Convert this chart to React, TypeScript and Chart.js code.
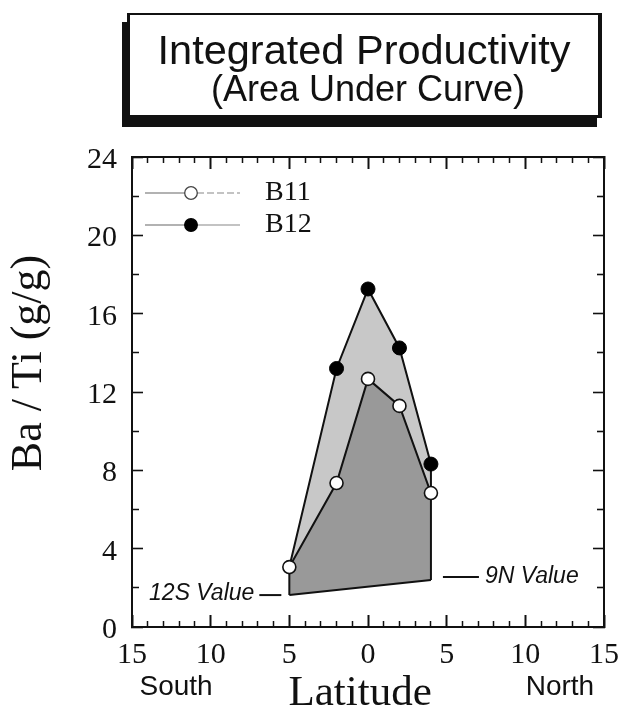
import React, { useEffect, useRef } from 'react';
import { Chart, registerables } from 'chart.js';

Chart.register(...registerables);

// ---- data ----
const latitudes = [-5, -2, 0, 2, 4];
const b11Values = [3.06, 7.35, 12.67, 11.29, 6.84];
const b12Values = [3.06, 13.2, 17.26, 14.25, 8.32];
const endpointLatitudes = [-5, 4];
const endpointValues = [1.63, 2.4];
const endpointLabels = ['12S Value', '9N Value'];
const seriesNames = ['B11', 'B12'];
const regionLabels = ['South', 'Latitude', 'North'];
const regionPositions = [-12.2, -0.5, 12.2];
const titleLines = ['Integrated Productivity', '(Area Under Curve)'];
const yAxisTitle = 'Ba / Ti (g/g)';
const xRange = [-15, 15];
const yRange = [0, 24];

const serif = "'Liberation Serif', 'Times New Roman', serif";
const sans = "'Liberation Sans', Arial, Helvetica, sans-serif";
const ink = '#111';

const pts = (xs: number[], ys: number[]) => xs.map((x, i) => ({ x, y: ys[i] }));

function makeLegendIcon(filled: boolean) {
  const c = document.createElement('canvas');
  c.width = 106;
  c.height = 20;
  const g = c.getContext('2d')!;
  g.strokeStyle = '#666';
  g.lineWidth = 1.2;
  g.beginPath();
  g.moveTo(0, 10);
  g.lineTo(40, 10);
  g.stroke();
  if (!filled) g.setLineDash([7, 3]);
  g.strokeStyle = '#888';
  g.beginPath();
  g.moveTo(52, 10);
  g.lineTo(95, 10);
  g.stroke();
  g.setLineDash([]);
  g.beginPath();
  g.arc(46, 10, 6.3, 0, Math.PI * 2);
  g.fillStyle = filled ? '#000' : '#fff';
  g.fill();
  g.strokeStyle = filled ? '#000' : '#444';
  g.lineWidth = 1.3;
  g.stroke();
  return c;
}

const legendPlacer = {
  id: 'legendPlacer',
  afterLayout(chart: any) {
    const lg = chart.legend;
    if (!lg) return;
    const a = chart.chartArea;
    lg.left = a.left + 9;
    lg.top = a.top + 18;
    lg.right = a.left + 300;
    lg.bottom = a.bottom;
    lg.width = lg.right - lg.left;
    lg.height = lg.bottom - lg.top;
  },
};

const endpointAnnotations = {
  id: 'endpointAnnotations',
  afterDatasetsDraw(chart: any) {
    const { ctx, scales } = chart;
    const xs = scales.x;
    const ys = scales.y;
    ctx.save();
    ctx.font = `italic 23px ${sans}`;
    ctx.fillStyle = ink;
    ctx.strokeStyle = ink;
    ctx.lineWidth = 2;
    ctx.textBaseline = 'middle';
    endpointLabels.forEach((label, i) => {
      const px = xs.getPixelForValue(endpointLatitudes[i]);
      const py = ys.getPixelForValue(endpointValues[i]);
      if (endpointLatitudes[i] < 0) {
        ctx.beginPath();
        ctx.moveTo(px - 30, py);
        ctx.lineTo(px - 8, py);
        ctx.stroke();
        ctx.textAlign = 'right';
        ctx.fillText(label, px - 35, py - 1);
      } else {
        ctx.beginPath();
        ctx.moveTo(px + 12, py - 3);
        ctx.lineTo(px + 48, py - 3);
        ctx.stroke();
        ctx.textAlign = 'left';
        ctx.fillText(label, px + 54, py - 3);
      }
    });
    ctx.restore();
  },
};

const isMajor = (ctx: any, step: number) => ctx.tick && Math.round(ctx.tick.value) % step === 0;
const noHPad = (s: any, h: number) => {
  s.height = h;
  s.paddingLeft = 0;
  s.paddingRight = 0;
};
const noVPad = (s: any, w: number) => {
  s.width = w;
  s.paddingTop = 0;
  s.paddingBottom = 0;
};

export default function App() {
  const canvasRef = useRef<HTMLCanvasElement>(null);

  useEffect(() => {
    const canvas = canvasRef.current;
    if (!canvas) return;
    const icons = [makeLegendIcon(false), makeLegendIcon(true)];

    const lineBase = {
      borderColor: ink,
      borderWidth: 2,
      tension: 0,
      pointRadius: 0,
      pointHoverRadius: 0,
    };

    const chart = new Chart(canvas, {
      type: 'line',
      data: {
        datasets: [
          {
            ...lineBase,
            label: 'baseline',
            data: pts(endpointLatitudes, endpointValues),
            fill: false,
            order: 5,
          },
          {
            ...lineBase,
            label: seriesNames[0],
            data: pts(latitudes, b11Values),
            backgroundColor: '#999999',
            fill: '-1',
            pointRadius: 6.5,
            pointBackgroundColor: '#fff',
            pointBorderColor: ink,
            pointBorderWidth: 1.6,
            order: 1,
          },
          {
            ...lineBase,
            label: seriesNames[1],
            data: pts(latitudes, b12Values),
            backgroundColor: '#c8c8c8',
            fill: '-1',
            pointRadius: (c: any) => (c.dataIndex === 0 ? 0 : 7),
            pointBackgroundColor: '#000',
            pointBorderColor: '#000',
            pointBorderWidth: 1,
            order: 2,
          },
          {
            ...lineBase,
            label: 'edgeS',
            data: [
              { x: endpointLatitudes[0], y: b11Values[0] },
              { x: endpointLatitudes[0], y: endpointValues[0] },
            ],
            fill: false,
            order: 5,
          },
          {
            ...lineBase,
            label: 'edgeN',
            data: [
              { x: endpointLatitudes[1], y: b12Values[b12Values.length - 1] },
              { x: endpointLatitudes[1], y: endpointValues[1] },
            ],
            fill: false,
            order: 5,
          },
        ],
      } as any,
      options: {
        responsive: false,
        maintainAspectRatio: false,
        animation: false,
        devicePixelRatio: 1,
        events: [],
        layout: { padding: { top: 157, left: 0, right: 15, bottom: 0 } },
        plugins: {
          filler: { propagate: false, drawTime: 'beforeDatasetsDraw' },
          tooltip: { enabled: false },
          legend: {
            display: true,
            position: 'chartArea',
            align: 'start',
            labels: {
              usePointStyle: true,
              pointStyleWidth: 106,
              padding: 4,
              color: ink,
              font: { family: serif, size: 28 },
              generateLabels: () =>
                seriesNames.map((name, i) => ({
                  text: name,
                  pointStyle: icons[i],
                  fillStyle: '#000',
                  strokeStyle: '#000',
                  lineWidth: 0,
                  hidden: false,
                  datasetIndex: i + 1,
                  fontColor: ink,
                })),
            },
          },
        } as any,
        scales: {
          x: {
            type: 'linear',
            position: 'bottom',
            min: xRange[0],
            max: xRange[1],
            afterFit: (s: any) => noHPad(s, 44),
            ticks: {
              stepSize: 1,
              autoSkip: false,
              maxRotation: 0,
              padding: 22,
              color: ink,
              font: { family: serif, size: 30 },
              callback: (v: any) => (Math.round(v) % 5 === 0 ? String(Math.abs(Math.round(v))) : ''),
            },
            grid: {
              drawOnChartArea: false,
              tickLength: -12,
              tickColor: ink,
              tickWidth: (c: any) => (isMajor(c, 5) ? 2 : 1.5),
              tickBorderDash: (c: any) => (isMajor(c, 5) ? [] : [7, 40]),
            },
            border: { color: ink, width: 2 },
          },
          xl: {
            type: 'linear',
            position: 'bottom',
            weight: 1,
            min: xRange[0],
            max: xRange[1],
            afterFit: (s: any) => noHPad(s, 48),
            afterBuildTicks: (s: any) => {
              s.ticks = regionPositions.map((v) => ({ value: v }));
            },
            ticks: {
              autoSkip: false,
              maxRotation: 0,
              padding: 4,
              color: ink,
              callback: (_v: any, i: number) => regionLabels[i],
              font: (c: any) =>
                c.index === 1
                  ? { family: serif, size: 43, lineHeight: 0.86 }
                  : { family: sans, size: 28, lineHeight: 0.86 },
            },
            grid: { display: false, drawTicks: false },
            border: { display: false },
          },
          x2: {
            type: 'linear',
            position: 'top',
            min: xRange[0],
            max: xRange[1],
            afterFit: (s: any) => noHPad(s, 0),
            ticks: { display: false, stepSize: 1, autoSkip: false },
            grid: {
              drawOnChartArea: false,
              tickLength: -12,
              tickColor: ink,
              tickWidth: (c: any) => (isMajor(c, 5) ? 2 : 1.5),
              tickBorderDash: (c: any) => (isMajor(c, 5) ? [] : [0, 6, 8, 40]),
            },
            border: { color: ink, width: 2 },
          },
          y: {
            type: 'linear',
            position: 'left',
            min: yRange[0],
            max: yRange[1],
            afterFit: (s: any) => noVPad(s, 132),
            ticks: {
              stepSize: 2,
              autoSkip: false,
              padding: 26,
              labelOffset: 3,
              color: ink,
              font: { family: serif, size: 30 },
              callback: (v: any) => (Math.round(v) % 4 === 0 ? String(Math.round(v)) : ''),
            },
            grid: {
              drawOnChartArea: false,
              tickLength: -11,
              tickColor: ink,
              tickWidth: 1.6,
              tickBorderDash: (c: any) => (isMajor(c, 4) ? [] : [0, 4, 9, 40]),
            },
            border: { color: ink, width: 2 },
          },
          y2: {
            type: 'linear',
            position: 'right',
            min: yRange[0],
            max: yRange[1],
            afterFit: (s: any) => noVPad(s, 0),
            ticks: { display: false, stepSize: 2, autoSkip: false },
            grid: {
              drawOnChartArea: false,
              tickLength: -11,
              tickColor: ink,
              tickWidth: 1.6,
              tickBorderDash: (c: any) => (isMajor(c, 4) ? [] : [8, 40]),
            },
            border: { color: ink, width: 2 },
          },
        },
      } as any,
      plugins: [legendPlacer, endpointAnnotations],
    });

    return () => chart.destroy();
  }, []);

  return (
    <div style={{ position: 'absolute', left: 0, top: 0, width: 619, height: 719, background: '#fff', overflow: 'hidden' }}>
      <canvas ref={canvasRef} width={619} height={719} style={{ display: 'block' }} />
      <div
        style={{
          position: 'absolute',
          left: 27 - 150,
          top: 363 - 22,
          width: 300,
          height: 44,
          lineHeight: '44px',
          fontFamily: serif,
          fontSize: 44,
          color: ink,
          textAlign: 'center',
          whiteSpace: 'nowrap',
          transform: 'rotate(-90deg)',
        }}
      >
        {yAxisTitle}
      </div>
      <div
        style={{
          position: 'absolute',
          left: 127,
          top: 13,
          width: 475,
          height: 105,
          boxSizing: 'border-box',
          borderTop: '2px solid #111',
          borderLeft: '3px solid #111',
          borderRight: '4px solid #111',
          borderBottom: '3px solid #111',
          boxShadow: '-5px 9px 0 #111',
          background: '#fff',
          color: ink,
          fontFamily: sans,
        }}
      >
        <div
          style={{
            position: 'absolute',
            left: 0,
            right: 0,
            top: 14,
            textAlign: 'center',
            fontSize: 41.5,
            lineHeight: '41px',
            whiteSpace: 'nowrap',
          }}
        >
          {titleLines[0]}
        </div>
        <div
          style={{
            position: 'absolute',
            left: 8,
            right: 0,
            top: 56,
            textAlign: 'center',
            fontSize: 36,
            lineHeight: '35px',
            whiteSpace: 'nowrap',
          }}
        >
          {titleLines[1]}
        </div>
      </div>
    </div>
  );
}
